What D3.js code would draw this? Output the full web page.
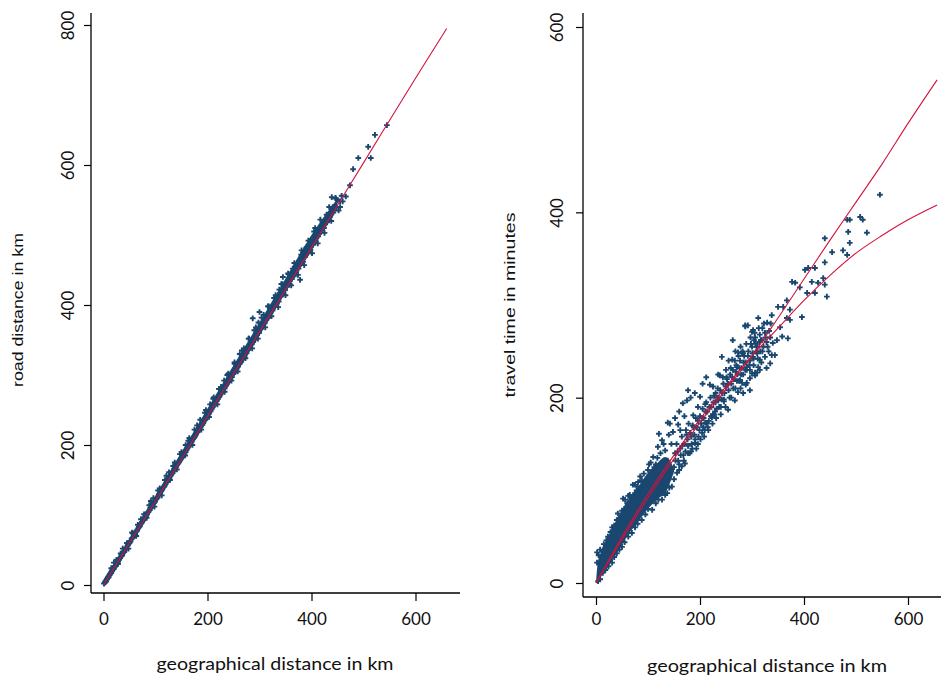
<!DOCTYPE html>
<html>
<head>
<meta charset="utf-8">
<script src="https://cdn.jsdelivr.net/npm/d3@7"></script>
<style>
  body { margin: 0; background: #fff; }
  svg { display: block; }
</style>
</head>
<body>
<svg id="chart" width="941" height="677"></svg>
<script>
// tick labels
const xTicks = [0, 200, 400, 600]
const roadTicks = [0, 200, 400, 600, 800]
const timeTicks = [0, 200, 400, 600]

// left panel: [geographical km, road km]
const roadPoints = [
  [1,2],[2,3],[3,4],[4,6],[5,5],[6,8],[7,9],[8,10],[9,12],[10,11],[11,14],[12,15],[13,16],[14,18],[15,17],
  [16,20],[17,21],[18,22],[19,24],[20,23],[21,27],[22,26],[24,29],[25,31],[26,30],[27,34],[28,33],[30,36],
  [31,38],[32,39],[34,41],[35,43],[36,42],[38,46],[39,48],[40,47],[42,51],[43,53],[44,52],[46,56],[47,57],
  [48,59],[50,60],[51,63],[52,62],[54,66],[55,67],[57,68],[58,71],[60,73],[61,72],[62,76],[64,77],[65,79],
  [67,81],[68,83],[70,84],[71,87],[73,88],[74,90],[76,92],[77,94],[79,95],[80,98],[82,99],[84,101],[85,104],
  [87,105],[89,107],[90,110],[92,111],[94,113],[95,116],[97,117],[99,119],[100,122],[102,123],[104,125],
  [106,128],[107,130],[109,131],[111,134],[113,136],[114,139],[116,140],[118,142],[120,145],[122,147],
  [123,150],[125,151],[127,153],[129,156],[131,158],[133,160],[135,163],[136,166],[138,167],[140,169],
  [142,172],[144,174],[146,176],[148,179],[150,181],[152,183],[154,186],[156,189],[158,190],[160,193],
  [162,196],[164,198],[166,200],[168,203],[170,205],[172,208],[174,210],[176,212],[178,215],[181,218],
  [183,221],[185,223],[187,226],[190,229],[192,231],[194,235],[196,236],[199,240],[201,243],[203,245],
  [206,248],[208,251],[210,254],[213,257],[215,260],[218,263],[220,266],[223,269],[225,272],[228,275],
  [230,279],[233,281],[236,285],[238,288],[241,290],[244,295],[247,297],[250,302],[253,304],[256,309],
  [259,312],[262,316],[265,319],[268,324],[271,326],[275,331],[278,336],[281,339],[285,344],[288,347],
  [292,352],[295,357],[299,360],[302,366],[306,369],[310,374],[313,379],[317,382],[321,388],[325,392],
  [329,397],[333,402],[337,405],[341,412],[345,416],[349,421],[353,426],[358,430],[362,437],[366,441],
  [370,447],[375,452],[379,458],[384,462],[388,469],[393,474],[398,479],[403,486],[408,491],[413,498],
  [418,504],[424,510],[430,518],[436,526],[442,532],[448,540],[455,548],
  [15,24],[25,36],[33,45],[45,60],[56,74],[66,86],[78,101],[88,114],[96,124],[108,138],[118,150],[126,161],
  [137,175],[147,187],[158,200],[165,210],[175,222],[186,236],[195,246],[205,258],[212,268],[222,280],
  [232,292],[240,302],[252,316],[262,330],[270,338],[280,352],[290,364],[298,375],[308,386],[318,398],
  [328,410],[338,422],[344,430],[356,444],[364,452],[372,460],[380,472],[390,482],[400,494],[410,502],
  [420,512],[432,528],[440,538],[450,550],[446,553],
  [20,32],[28,30],[37,52],[48,52],[55,75],[63,70],[72,94],[83,96],[91,120],[98,112],[105,135],[112,128],
  [121,156],[128,150],[134,170],[141,165],[150,190],[157,185],[163,206],[171,200],[180,228],[188,222],
  [197,250],[203,240],[211,266],[219,258],[226,283],[233,276],[238,300],[246,292],[252,318],[258,305],
  [266,335],[273,324],[279,352],[286,338],[293,368],[297,352],[304,382],[311,368],[316,398],[323,384],
  [331,414],[336,397],[342,430],[350,414],[355,445],[361,428],[367,460],[374,443],[381,478],[386,457],
  [394,492],[401,474],[405,505],[412,488],[417,522],[425,503],[434,540],[438,520],[447,552],[452,535],
  [458,556],
  [287,381],[300,390],[345,440],[378,460],[378,436],[391,483],[407,510],[429,529],[439,554],[441,540],
  [455,540],[474,571],[480,594],[490,610],[509,626],[514,610],[522,643],[545,657],[460,548],[466,555]
]
// dense band of the road-distance cloud (lower / upper edge)
const bandGeo = [0, 50, 100, 150, 200, 250, 300, 350, 400, 450]
const bandLow = [-2, 55, 115, 176, 236, 296, 356, 418, 478, 538]
const bandHigh = [4, 66, 128, 190, 252, 314, 375, 438, 500, 552]

const roadFitGeo = [0, 100, 200, 300, 400, 500, 600, 660]
const roadFit = [0, 120, 241, 362, 482, 603, 724, 795]

// right panel: two fitted curves
const timeFitGeo = [0, 50, 100, 150, 200, 250, 300, 350, 400, 450, 500, 550, 600, 656]
const timeFitUpper = [0, 47, 92, 134, 173, 209, 245, 286, 328, 370, 411, 452, 496, 543]
const timeFitLower = [0, 50, 96, 138, 177, 212, 245, 275, 305, 332, 356, 375, 392, 408]

// dense core of the travel-time cloud (lower / upper edge)
const coreGeo = [0, 3, 10, 23, 42, 62, 81, 100, 119, 133, 150]
const coreLow = [0, 0, 7, 17, 34, 52, 66, 80, 91, 97, 120]
const coreHigh = [0, 20, 34, 50, 71, 90, 104, 119, 130, 136, 124]

// right panel: [geographical km, minutes]
const timePoints = [
  [2,22],[5,30],[8,36],[12,34],[15,42],[20,46],[23,50],[28,55],[31,60],[35,62],[42,75],[45,70],[50,78],
  [56,90],[60,86],[65,95],[71,106],[75,97],[80,104],[88,111],[92,118],[100,122],[105,130],[110,136],
  [115,128],[119,147],[124,140],[127,154],[133,143],[138,173],[140,160],[148,163],[152,178],[158,171],
  [160,185],[167,194],[170,180],[175,197],[177,208],[182,200],[187,181],[190,205],[196,190],[200,201],
  [205,215],[210,193],[212,222],[219,214],[225,212],[230,205],[235,225],[238,224],[242,244],[244,222],
  [250,230],[255,240],[262,241],[263,262],[268,250],[271,233],[273,249],[278,255],[281,248],[287,278],
  [292,278],[300,271],[304,262],[310,255],[312,286],[315,268],[320,275],
  [4,2],[8,4],[13,11],[18,14],[24,18],[31,22],[35,28],[40,32],[45,36],[50,39],[55,44],[62,50],[69,54],
  [75,60],[80,64],[88,68],[95,74],[100,80],[108,79],[115,86],[120,90],[127,90],[133,95],[137,97],
  [141,103],[146,104],[150,112],[156,119],[160,122],[165,126],[171,129],[177,140],[183,142],[190,151],
  [196,150],[204,162],[210,173],[215,168],[223,179],[228,182],[235,197],[240,190],[246,196],[254,187],
  [260,200],[267,197],[273,206],[278,210],[281,216],[288,214],[296,221],[300,226],[306,227],[312,233],
  [318,238],[325,244],[328,232],[335,237],
  [152,140],[155,150],[158,132],[162,145],[165,158],[168,138],[170,150],[173,165],[176,155],[178,172],
  [181,162],[184,150],[186,170],[189,160],[192,178],[194,168],[197,158],[200,180],[202,172],[205,188],
  [207,178],[209,165],[212,195],[214,185],[217,175],[220,200],[222,190],[225,182],[227,202],[230,195],
  [232,188],[234,210],[236,200],[239,208],[242,198],[245,215],[247,205],[250,212],[252,220],[255,208],
  [258,225],[260,215],[263,230],[265,220],[268,210],[270,235],[272,225],[275,218],[277,240],[280,232],
  [283,225],[285,245],[288,238],[290,230],[293,250],[296,240],[298,258],[301,248],[303,235],[306,265],
  [308,250],[311,242],[314,260],[316,250],[319,262],[322,255],[325,270],[328,260],[332,250],[335,265],
  [150,125],[153,132],[157,142],[160,128],[163,138],[166,148],[169,132],[172,142],[174,160],[177,148],
  [180,140],[183,158],[185,145],[188,168],[191,155],[193,145],[196,175],[199,165],[201,155],[204,178],
  [206,168],[208,158],[211,185],[213,172],[216,165],[218,190],[221,180],[224,172],[226,195],[229,185],
  [231,178],[233,200],[237,190],[240,182],[243,205],[246,198],[249,190],[251,222],[254,215],[257,200],
  [259,232],[262,222],[264,210],[267,240],[269,228],[271,218],[274,245],[276,232],[279,225],[282,250],
  [284,238],[287,230],[289,258],[292,245],[295,235],[297,265],[300,255],[303,242],[305,270],[307,258],
  [310,248],[313,275],[317,262],[320,250],[323,280],[326,265],[330,255],[333,272],[336,280],
  [10,28],[18,38],[26,48],[38,60],[48,70],[58,82],[68,92],[78,100],[85,115],[95,110],[102,128],[118,135],
  [130,150],[145,150],[40,68],[62,94],[128,125],[138,132],[143,118],[124,108],[112,118],[90,92],
  [329,281],[338,289],[338,246],[340,259],[344,246],[348,262],[350,298],[354,276],[358,266],[360,298],
  [367,305],[367,286],[369,264],[373,295],[373,284],[377,325],[383,324],[392,319],[396,287],[402,338],
  [406,313],[408,340],[415,325],[421,340],[421,313],[427,324],[437,329],[440,346],[440,372],[440,322],
  [444,309],[454,357],[475,359],[483,354],[483,392],[485,379],[488,392],[488,367],[508,395],[513,392],
  [521,378],[546,419],
  [283,248],[287,277],[290,233],[296,230],[302,273],[302,244],[306,224],[310,227],[310,255],[315,241],
  [315,230],[290,216],[283,205],[296,208],[277,219],
  [121,161],[142,172],[162,165],[52,91],[2,33],[75,106],[81,109],[30,48],[60,80],[90,100],[112,125]
]

const navy = "#1a476f"
const red = "#d3123d"
const svg = d3.select("#chart")
const marker = d3.symbol().type(d3.symbolCross).size(18)

function drawPanel(cfg) {
  const g = svg.append("g")
  const x = d3.scaleLinear().domain([0, 600]).range(cfg.xRange)
  const y = d3.scaleLinear().domain([0, cfg.yMax]).range(cfg.yRange)

  // solid dense part of the cloud
  const area = d3.area()
    .x((d, i) => x(cfg.core.geo[i]))
    .y0((d, i) => y(cfg.core.low[i]))
    .y1((d, i) => y(cfg.core.high[i]))
    .curve(d3.curveMonotoneX)
  g.append("path")
    .datum(cfg.core.geo)
    .attr("fill", navy)
    .attr("d", area)

  g.selectAll("path.pt")
    .data(cfg.points)
    .join("path")
      .attr("class", "pt")
      .attr("transform", d => `translate(${x(d[0])},${y(d[1])})`)
      .attr("d", marker)
      .attr("fill", navy)

  const line = d3.line()
    .x((d, i) => x(cfg.fitGeo[i]))
    .y(d => y(d))
    .curve(d3.curveMonotoneX)

  cfg.fits.forEach(f => {
    g.append("path")
      .datum(f)
      .attr("fill", "none")
      .attr("stroke", red)
      .attr("stroke-width", 1.1)
      .attr("d", line)
  })

  // axes
  const yAxis = g.append("g")
    .attr("transform", `translate(${cfg.axisX},0)`)
    .call(d3.axisLeft(y).tickValues(cfg.yTicks).tickSize(7).tickSizeOuter(0))
  yAxis.select(".domain").remove()
  yAxis.selectAll("line").attr("stroke", "#000").attr("stroke-width", 1.2)
  yAxis.selectAll("text")
    .attr("x", null).attr("dy", null)
    .attr("transform", `translate(${cfg.yLabelOff},0) rotate(-90)`)
    .attr("text-anchor", "middle")
    .style("font-family", "Lato, 'Open Sans', sans-serif")
    .style("font-size", "17px")
    .attr("fill", "#111")

  const xAxis = g.append("g")
    .attr("transform", `translate(0,${cfg.axisY})`)
    .call(d3.axisBottom(x).tickValues(xTicks).tickSize(8).tickSizeOuter(0))
  xAxis.select(".domain").remove()
  xAxis.selectAll("line").attr("stroke", "#000").attr("stroke-width", 1.2)
  xAxis.selectAll("text")
    .attr("y", cfg.xLabelOff).attr("dy", null)
    .style("font-family", "Lato, 'Open Sans', sans-serif")
    .style("font-size", "17px")
    .attr("fill", "#111")

  g.append("line")
    .attr("x1", cfg.axisX).attr("x2", cfg.axisX)
    .attr("y1", 13).attr("y2", cfg.axisY)
    .attr("stroke", "#000").attr("stroke-width", 1.3)
  g.append("line")
    .attr("x1", cfg.axisX).attr("x2", cfg.axisRight)
    .attr("y1", cfg.axisY).attr("y2", cfg.axisY)
    .attr("stroke", "#000").attr("stroke-width", 1.3)

  g.append("text")
    .attr("transform", `translate(${cfg.yTitleX},${cfg.yTitleY}) rotate(-90)`)
    .attr("text-anchor", "middle")
    .attr("textLength", cfg.yTitleLen)
    .attr("lengthAdjust", "spacingAndGlyphs")
    .style("font-family", "'Liberation Sans', Arial, sans-serif")
    .style("font-size", "15px")
    .attr("fill", "#111")
    .text(cfg.yTitle)

  g.append("text")
    .attr("x", cfg.xTitleX)
    .attr("y", cfg.xTitleY)
    .attr("text-anchor", "middle")
    .attr("textLength", cfg.xTitleLen)
    .attr("lengthAdjust", "spacingAndGlyphs")
    .style("font-family", "Lato, 'Open Sans', sans-serif")
    .style("font-size", "18px")
    .attr("fill", "#111")
    .text("geographical distance in km")
}

drawPanel({
  xRange: [103.5, 415.5], yRange: [585, 25], yMax: 800,
  yTicks: roadTicks, points: roadPoints,
  core: { geo: bandGeo, low: bandLow, high: bandHigh },
  fitGeo: roadFitGeo, fits: [roadFit],
  axisX: 91, axisY: 593, axisRight: 460,
  yLabelOff: -17.5, xLabelOff: 32,
  yTitle: "road distance in km", yTitleX: 23, yTitleY: 310, yTitleLen: 154,
  xTitleX: 275, xTitleY: 670, xTitleLen: 237
})

drawPanel({
  xRange: [596, 908], yRange: [583, 27], yMax: 600,
  yTicks: timeTicks, points: timePoints,
  core: { geo: coreGeo, low: coreLow, high: coreHigh },
  fitGeo: timeFitGeo, fits: [timeFitUpper, timeFitLower],
  axisX: 583, axisY: 597, axisRight: 941,
  yLabelOff: -20, xLabelOff: 28,
  yTitle: "travel time in minutes", yTitleX: 515, yTitleY: 305, yTitleLen: 185,
  xTitleX: 767, xTitleY: 672, xTitleLen: 240
})
</script>
</body>
</html>
